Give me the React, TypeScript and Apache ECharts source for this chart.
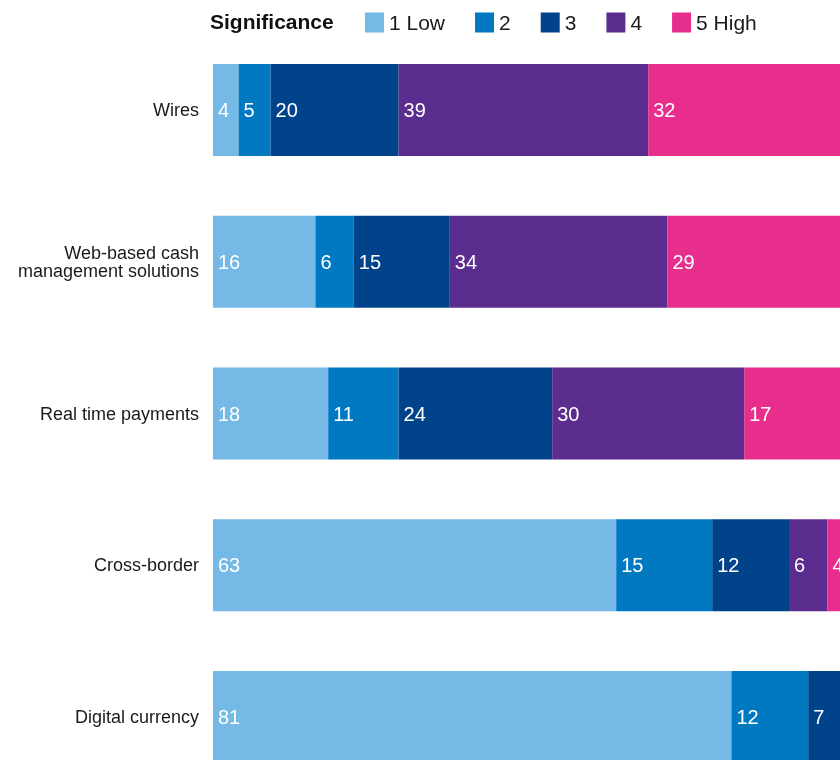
import React, { useEffect, useRef } from "react";
import * as echarts from "echarts";

const categories = [
  "Wires",
  "Web-based cash\nmanagement solutions",
  "Real time payments",
  "Cross-border",
  "Digital currency",
];
const seriesNames = ["1 Low", "2", "3", "4", "5 High"];
const lowValues = [4, 16, 18, 63, 81];
const level2Values = [5, 6, 11, 15, 12];
const level3Values = [20, 15, 24, 12, 7];
const level4Values = [39, 34, 30, 6, 0];
const highValues = [32, 29, 17, 4, 0];
const colors = ["#75B9E7", "#0079C1", "#00438A", "#5B2D8E", "#E72E8C"];

const FONT = "'Liberation Sans', Arial, Helvetica, sans-serif";

export default function App() {
  const ref = useRef<HTMLDivElement>(null);
  useEffect(() => {
    if (!ref.current) return;
    const chart = echarts.init(ref.current, null, { renderer: "svg" });
    const allValues = [lowValues, level2Values, level3Values, level4Values, highValues];
    chart.setOption({
      animation: false,
      textStyle: { fontFamily: FONT },
      title: {
        text: "Significance",
        left: 210,
        top: 11,
        padding: 0,
        textStyle: { fontSize: 21, fontWeight: "bold", color: "#111", fontFamily: FONT },
      },
      legend: {
        data: seriesNames,
        left: 365,
        top: 12,
        padding: 0,
        icon: "rect",
        itemWidth: 19,
        itemHeight: 20,
        itemGap: 30,
        textStyle: { fontSize: 21, color: "#1a1a1a", fontFamily: FONT },
      },
      grid: {
        left: 213,
        top: 34,
        width: 640,
        height: 759,
        containLabel: false,
        outerBoundsMode: "none",
      },
      xAxis: { type: "value", min: 0, max: 100, show: false },
      yAxis: {
        type: "category",
        inverse: true,
        data: categories,
        axisLine: { show: false },
        axisTick: { show: false },
        splitLine: { show: false },
        axisLabel: {
          fontSize: 18,
          color: "#1a1a1a",
          margin: 14,
          lineHeight: 18,
          fontFamily: FONT,
        },
      },
      series: seriesNames.map((name, i) => ({
        name,
        type: "bar",
        stack: "total",
        barWidth: 92,
        data: allValues[i],
        itemStyle: { color: colors[i] },
        label: {
          show: true,
          position: "insideLeft",
          distance: 5,
          color: "#fff",
          fontSize: 20,
          fontFamily: FONT,
          formatter: (p: any) => (p.value ? String(p.value) : ""),
        },
      })),
    });
    return () => chart.dispose();
  }, []);
  return (
    <div
      style={{ position: "fixed", left: 0, top: 0, width: 840, height: 760, overflow: "hidden" }}
    >
      <div ref={ref} style={{ width: 880, height: 820 }} />
    </div>
  );
}
